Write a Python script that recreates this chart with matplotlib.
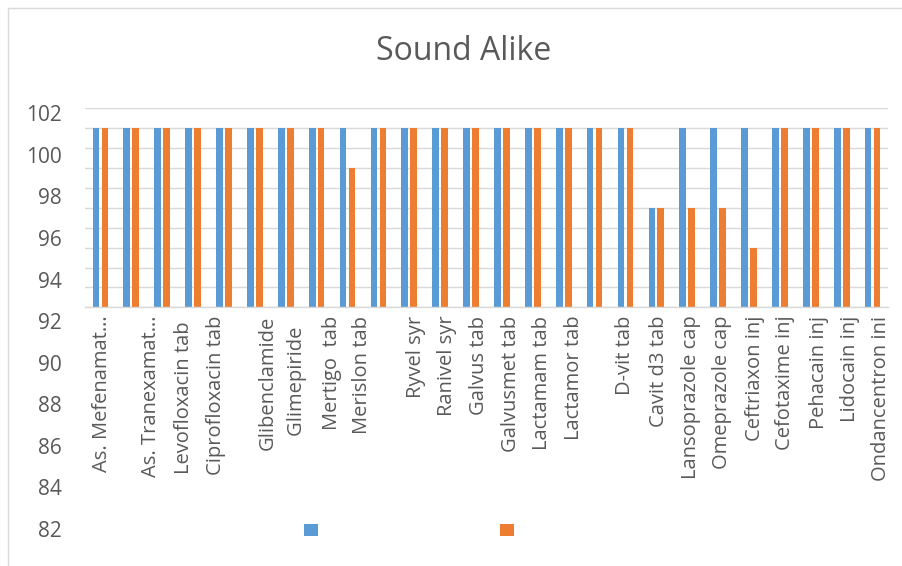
import numpy as np
import matplotlib
matplotlib.use("Agg")
import matplotlib.pyplot as plt
from matplotlib.patches import Rectangle, Patch

plt.rcParams['font.family'] = ['Open Sans', 'DejaVu Sans']

# ---- data ----
categories = ["As. Mefenamat\u2026", "", "As. Tranexamat\u2026", "Levofloxacin tab ",
              "Ciprofloxacin tab", "", "Glibenclamide", "Glimepiride  ",
              "Mertigo  tab", "Merislon tab", "", "Ryvel syr", "Ranivel syr",
              "Galvus tab", "Galvusmet tab", "Lactamam tab", "Lactamor tab",
              "D-vit tab", "Cavit d3 tab", "Lansoprazole cap", "Omeprazole cap",
              "Ceftriaxon inj", "Cefotaxime inj", "Pehacain inj", "Lidocain inj",
              "Ondancentron ini"]
series1 = [100, 100, 100, 100, 100, 100, 100, 100, 100, 100, 100, 100, 100,
           100, 100, 100, 100, 100, 92, 100, 100, 100, 100, 100, 100, 100]
series2 = [100, 100, 100, 100, 100, 100, 100, 100, 96, 100, 100, 100, 100,
           100, 100, 100, 100, 100, 92, 92, 92, 88, 100, 100, 100, 100]
series_names = ["", ""]
y_ticks = list(range(82, 103, 2))

# ---- layout (label display shifts, in category units) ----
label_shift = [0.05, 0, -0.35, -0.3, -0.25, 0, -0.57, -0.62, -0.5, -0.53, 0,
               -0.78, -0.78, -0.75, -0.71, -0.71, -0.67, 0.0, 0.07, 0.11, 0.11,
               0.2, 0.18, 0.25, 0.28, 0.28]

W, H = 903, 566
BLUE, ORANGE = '#5B9BD5', '#ED7D31'
GRID = '#D9D9D9'
TXT = '#595959'

fig = plt.figure(figsize=(W / 100, H / 100), dpi=100)

# chart area border
fig.patches.append(Rectangle((8 / W, -0.1), 2, (H - 8) / H + 0.1,
                             transform=fig.transFigure, fill=False,
                             edgecolor=GRID, lw=1.0))

ax = fig.add_axes([85 / W, (H - 307.3) / H, 803 / W, 199 / H])
x = np.arange(len(categories))
bw = 0.217
b1 = ax.bar(x - 0.145, series1, width=bw, color=BLUE, label=series_names[0])
b2 = ax.bar(x + 0.145, series2, width=bw, color=ORANGE, label=series_names[1])
ax.set_xlim(-0.5, len(categories) - 0.5)
ax.set_ylim(82, 102)
ax.set_yticks(y_ticks)
ax.yaxis.grid(True, color=GRID, lw=1.0)
ax.set_axisbelow(True)
ax.tick_params(axis='y', length=0, labelleft=False)
for s in ['left', 'right', 'top']:
    ax.spines[s].set_visible(False)
ax.spines['bottom'].set_color(GRID)
ax.spines['bottom'].set_linewidth(1.0)

tick_pos = [i + label_shift[i] for i, c in enumerate(categories) if c]
tick_lab = [c for c in categories if c]
ax.set_xticks(tick_pos)
ax.set_xticklabels(tick_lab, rotation=90, va='top', ha='center',
                   fontsize=14.5, color=TXT)
ax.tick_params(axis='x', length=0, pad=6)

# value-axis labels (spread as in the reference)
ax2 = fig.add_axes([63 / W, (H - 529) / H, 1 / W, (529 - 113.3) / H])
ax2.set_ylim(82, 102)
ax2.set_yticks(y_ticks)
ax2.set_yticklabels([str(v) for v in y_ticks], fontsize=15, color=TXT)
ax2.tick_params(axis='y', length=0, pad=1)
ax2.set_xticks([])
for s in ax2.spines.values():
    s.set_visible(False)
ax2.patch.set_visible(False)

fig.text(463.5 / W, 1 - 52 / H, 'Sound Alike', ha='center', va='center',
         fontsize=23, color=TXT)

handles = [Patch(facecolor=BLUE), Patch(facecolor=ORANGE)]
fig.legend(handles, series_names, loc='center',
           bbox_to_anchor=(409 / W, 1 - 531 / H), ncol=2, frameon=False,
           fontsize=10, handlelength=1.0, handleheight=1.0,
           handletextpad=0.0, columnspacing=13.1)

fig.savefig('out.png', dpi=100)
